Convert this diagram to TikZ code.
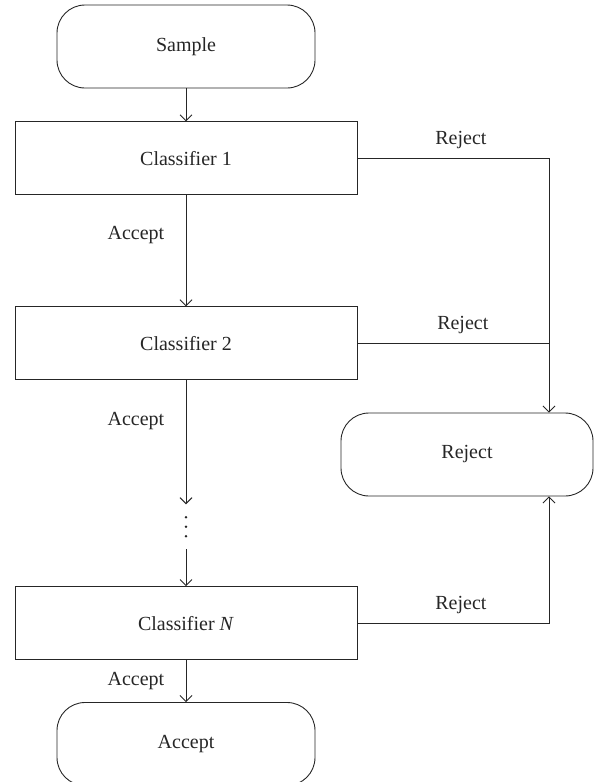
\documentclass[tikz,border=0pt]{standalone}
\usepackage{fontspec}
\setmainfont{Liberation Serif}
\usetikzlibrary{positioning,calc,arrows.meta}

\begin{document}
\begin{tikzpicture}[x=1pt,y=-1pt,
  font=\fontsize{20}{24}\selectfont,
  line width=0.9pt, color=black!85,
  >={Straight Barb[length=6pt,width=12pt]},
  terminal/.style={draw,rectangle,rounded corners=28pt,minimum width=258pt,minimum height=83pt},
  clsbox/.style={draw,rectangle,minimum width=342pt,minimum height=73pt}]
\useasboundingbox (0,0) rectangle (599,782);

\node[terminal] (term-sample) at (186,46.5) {Sample};
\node[clsbox,below=33pt of term-sample] (cls-1) {Classifier 1};
\node[clsbox,below=111pt of cls-1] (cls-2) {Classifier 2};
\node[below=124pt of cls-2,minimum height=44pt,inner sep=0pt] (cls-dots) {};
\node[clsbox,below=37pt of cls-dots] (cls-n) {Classifier \textit{N}};
\node[terminal,below=42pt of cls-n] (term-accept) {Accept};
\node[terminal,minimum width=252pt] (term-reject) at (467,454.5) {Reject};

\foreach \dy in {-9.5,0,9.5}
  \fill ([yshift=\dy pt]cls-dots.center) circle (1.3pt);

\coordinate (rej-in) at ([xshift=82pt]term-reject.north);
\coordinate (rej-out) at ([xshift=82pt]term-reject.south);

\draw[->] (term-sample) -- (cls-1);
\draw[->] (cls-1) -- node[pos=0.36,left=18pt] {Accept} (cls-2);
\draw[->] (cls-2) -- node[pos=0.33,left=18pt] {Accept} (cls-dots);
\draw[->] (cls-dots) -- (cls-n);
\draw[->] (cls-n) -- node[pos=0.5,left=18pt] {Accept} (term-accept);

\draw[->] (cls-1.east) -| node[pos=0.27,above=6pt] {Reject} (rej-in);
\draw (cls-2.east) -- node[pos=0.55,above=6pt] {Reject} (cls-2.east -| rej-in);
\draw[->] (cls-n.east) -| node[pos=0.27,above=6pt] {Reject} (rej-out);
\end{tikzpicture}
\end{document}
